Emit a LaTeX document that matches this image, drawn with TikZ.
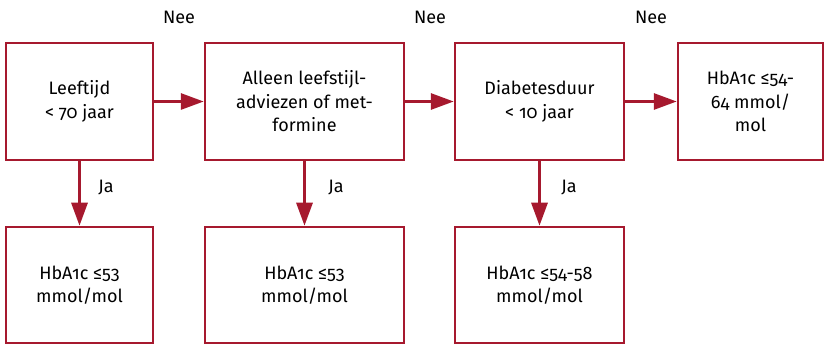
\documentclass[tikz,border=0pt]{standalone}
\usepackage{fontspec}
\setmainfont{Fira Sans}[Numbers=OldStyle]
\usetikzlibrary{arrows.meta}
\definecolor{fcred}{RGB}{166,25,46}
\begin{document}
\begin{tikzpicture}[x=1pt,y=-1pt,
  box/.style={draw=fcred,line width=2.5pt,rectangle,inner sep=0pt,align=center,
    minimum height=117pt,font=\fontsize{18}{23.5}\selectfont},
  lowbox/.style={box,minimum height=116.5pt},
  conn/.style={draw=fcred,line width=3pt,-{Triangle[length=23pt,width=16pt]}},
  lbl/.style={font=\fontsize{18}{23.5}\selectfont,inner sep=0pt}]
\useasboundingbox (0,0) rectangle (824,344);
\node[box,minimum width=147pt] (b1) at (79.5,101.5) {Leeftijd\\< 70 jaar};
\node[box,minimum width=199pt] (b2) at (304.5,101.5) {Alleen leefstijl-\\adviezen of met-\\formine};
\node[box,minimum width=169pt] (b3) at (539.5,101.5) {Diabetesduur\\< 10 jaar};
\node[box,minimum width=145pt] (b4) at (750.5,101.5) {HbA1c ≤54-\\64 mmol/\\mol};
\node[lowbox,minimum width=147pt] (l1) at (79.5,285.25) {HbA1c ≤53\\mmol/mol};
\node[lowbox,minimum width=199pt] (l2) at (304.5,285.25) {HbA1c ≤53\\mmol/mol};
\node[lowbox,minimum width=169pt] (l3) at (539.5,285.25) {HbA1c ≤54-58\\mmol/mol};
\draw[conn] (b1) -- (b2);
\draw[conn] (b2) -- (b3);
\draw[conn] (b3) -- (b4);
\draw[conn] (b1) -- (l1);
\draw[conn] (b2) -- (l2);
\draw[conn] (b3) -- (l3);
\node[lbl] (n1) at (179,17) {Nee};
\node[lbl] (n2) at (430,17) {Nee};
\node[lbl] (n3) at (651,17) {Nee};
\node[lbl] (j1) at (106,188) {Ja};
\node[lbl] (j2) at (336,188) {Ja};
\node[lbl] (j3) at (569,188) {Ja};
\end{tikzpicture}
\end{document}
